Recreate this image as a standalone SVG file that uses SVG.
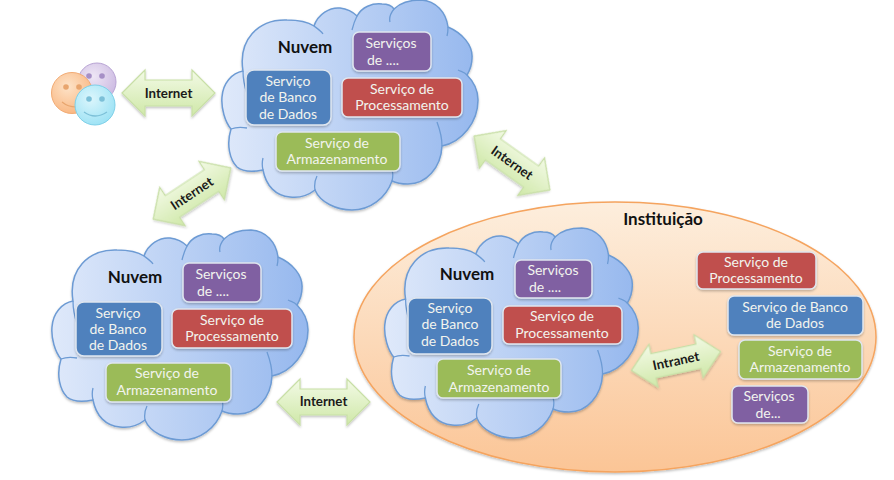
<svg xmlns="http://www.w3.org/2000/svg" width="894" height="480" viewBox="0 0 894 480">
<style>
text{font-family:"Lato","Liberation Sans",sans-serif;text-anchor:middle}
.s{font-size:14px;fill:#f2f4ee}
.t{font-size:17px;font-weight:700;fill:#111}
.a{font-size:13.300px;font-weight:700;fill:#1a1a1a}
.b{stroke:#dfe6ef;stroke-width:1.5;filter:url(#sh)}
.p{fill:#8060a2}.u{fill:#4f81bd}.r{fill:#c0504d}.g{fill:#9bbb59}
.ar{fill:url(#ag);stroke:#c8dfa6;stroke-width:1.2;filter:url(#sh)}
.c{fill:url(#cg);stroke:#6d9bd4;stroke-width:1.5;filter:url(#sh)}
.cl{fill:none;stroke:#6d9bd4;stroke-width:1.3}
</style>
<defs>
<linearGradient id="cg" x1="0" y1="0" x2="1" y2="0"><stop offset="0" stop-color="#dfe9fa"/><stop offset="1" stop-color="#96b8ee"/></linearGradient>
<linearGradient id="ag" x1="0" y1="0" x2="0" y2="1"><stop offset="0" stop-color="#f3fae6"/><stop offset="1" stop-color="#cfe8a8"/></linearGradient>
<linearGradient id="eg" x1="0" y1="0" x2="0" y2="1"><stop offset="0" stop-color="#fdeedd"/><stop offset="1" stop-color="#fbc596"/></linearGradient>
<radialGradient id="og" cx=".4" cy=".35" r=".75"><stop offset="0" stop-color="#fde3c8"/><stop offset="1" stop-color="#f9b27a"/></radialGradient>
<radialGradient id="vg" cx=".4" cy=".35" r=".75"><stop offset="0" stop-color="#eee6f5"/><stop offset="1" stop-color="#c9b6e0"/></radialGradient>
<radialGradient id="bg" cx=".4" cy=".35" r=".75"><stop offset="0" stop-color="#dcf6fc"/><stop offset="1" stop-color="#96e0f4"/></radialGradient>
<filter id="sh" x="-10%" y="-10%" width="120%" height="125%"><feDropShadow dx="0" dy="1.5" stdDeviation="1.2" flood-color="#000" flood-opacity=".25"/></filter>
<path id="arrow" d="M-46.5 0L-23.5 -23V-13H23.5V-23L46.5 0L23.5 23V13H-23.5V23Z"/>
<g id="cloud">
<path class="c" d="M243 71C238 40 258 19 287 20C298 20 308 22 314 26C318 14 330 7 340 8C348 9 353 12 357 16C362 7 372 3 382 4C388 4 392 6 394 9C400 3 410 0 421 0C436 1 446 12 448 27C462 33 473 45 472 58C472 64 470 70 467 75C475 83 478 92 478 100C478 122 462 142 442 146C441 168 426 184 408 184C402 184 396 183 392 181C386 198 370 210 352 210C336 210 320 202 315 190C306 197 298 198 290 197C276 196 266 186 263 170C253 172 243 172 237 167C230 160 226 145 231 129C225 122 221 108 222 97C223 83 232 73 243 71Z"/>
<path class="cl" d="M243 71C243 80 245 88 247 94M231 129C236 127 241 127 247 128M263 170C262 166 262 162 263 158M314 26C318 29 321 31 323 34M357 16C354 22 353 26 352 30M394 9C390 14 389 18 390 22M448 27C448 30 448 33 447 36M467 75C464 72 462 72 458 70M442 146C442 138 440 130 437 122M392 181C393 177 393 173 392 170M315 190C314 184 315 180 317 176"/>
</g>
</defs>
<rect width="894" height="480" fill="#fff"/>

<g id="connectors">
<use href="#arrow" class="ar" transform="translate(168.500 93)"/>
<use href="#arrow" class="ar" transform="translate(192 193.500) rotate(-33.500)"/>
<use href="#arrow" class="ar" transform="translate(512 163) rotate(35.400)"/>
<use href="#arrow" class="ar" transform="translate(323.500 402)"/>
</g>

<g id="usuarios">
<circle cx="97" cy="82" r="19" fill="url(#vg)" stroke="#b8a4d4"/>
<circle cx="89" cy="76" r="2.800" fill="#a68fc6"/><circle cx="102" cy="76" r="2.800" fill="#a68fc6"/>
<circle cx="72" cy="93" r="20.500" fill="url(#og)" stroke="#f2ab74"/>
<circle cx="66" cy="87" r="2.800" fill="#e8a56e"/><circle cx="79" cy="87" r="2.800" fill="#e8a56e"/>
<path d="M62 102Q68 107 76 107" fill="none" stroke="#e8a56e" stroke-width="1.200"/>
<circle cx="95" cy="105" r="20" fill="url(#bg)" stroke="#7fd0e8"/>
<circle cx="89" cy="99" r="2.800" fill="#7cc0d8"/><circle cx="102" cy="99" r="2.800" fill="#7cc0d8"/>
<path d="M84 112Q95 120 107 112" fill="none" stroke="#7cc0d8" stroke-width="1.300"/>
</g>

<g id="seta-internet-1"><text class="a" x="168.500" y="98">Internet</text></g>
<g id="seta-internet-2"><text class="a" transform="translate(192 193.500) rotate(-33.500)" y="4.500">Internet</text></g>
<g id="seta-internet-3"><text class="a" transform="translate(512 163) rotate(35.400)" y="4.500">Internet</text></g>
<g id="seta-internet-4"><text class="a" x="323.500" y="406">Internet</text></g>

<g id="nuvem-1">
<use href="#cloud"/>
<text class="t" x="305" y="53">Nuvem</text>
<rect class="b p" x="353" y="32" width="78" height="39" rx="6"/><text class="s" x="391" y="48">Serviços</text><text class="s" x="383" y="65">de ....</text>
<rect class="b u" x="246" y="70" width="85" height="55" rx="8"/><text class="s" x="288" y="86">Serviço</text><text class="s" x="288" y="102">de Banco</text><text class="s" x="288" y="119">de Dados</text>
<rect class="b r" x="342" y="78" width="120" height="39" rx="6"/><text class="s" x="402" y="94">Serviço de</text><text class="s" x="402" y="110">Processamento</text>
<rect class="b g" x="276" y="132" width="124" height="39" rx="6"/><text class="s" x="337" y="148">Serviço de</text><text class="s" x="337" y="164">Armazenamento</text>
</g>

<g id="nuvem-2">
<use href="#cloud" transform="translate(-170 230)"/>
<text class="t" x="135" y="283">Nuvem</text>
<rect class="b p" x="183" y="263" width="78" height="39" rx="6"/><text class="s" x="221" y="279">Serviços</text><text class="s" x="213" y="296">de ....</text>
<rect class="b u" x="76" y="302" width="86" height="54" rx="8"/><text class="s" x="118" y="318">Serviço</text><text class="s" x="118" y="334">de Banco</text><text class="s" x="118" y="350">de Dados</text>
<rect class="b r" x="172" y="309" width="120" height="39" rx="6"/><text class="s" x="232" y="325">Serviço de</text><text class="s" x="232" y="341">Processamento</text>
<rect class="b g" x="106" y="363" width="125" height="39" rx="6"/><text class="s" x="167" y="378">Serviço de</text><text class="s" x="167" y="395">Armazenamento</text>
</g>

<g id="instituicao">
<ellipse cx="615" cy="337" rx="261" ry="135" fill="url(#eg)" stroke="#f5a45f" stroke-width="1.500" filter="url(#sh)"/>
<text class="t" x="663" y="225">Instituição</text>
</g>

<g id="nuvem-3">
<use href="#cloud" transform="translate(165 228) scale(.99 1)"/>
<text class="t" x="467" y="280">Nuvem</text>
<rect class="b p" x="515" y="260" width="77" height="38" rx="6"/><text class="s" x="553" y="275">Serviços</text><text class="s" x="545" y="292">de ....</text>
<rect class="b u" x="408" y="298" width="84" height="56" rx="8"/><text class="s" x="450" y="313">Serviço</text><text class="s" x="450" y="329">de Banco</text><text class="s" x="450" y="346">de Dados</text>
<rect class="b r" x="503" y="306" width="119" height="38" rx="6"/><text class="s" x="562" y="321">Serviço de</text><text class="s" x="562" y="338">Processamento</text>
<rect class="b g" x="437" y="359" width="124" height="39" rx="6"/><text class="s" x="499" y="375">Serviço de</text><text class="s" x="499" y="392">Armazenamento</text>
</g>

<g id="seta-intranet">
<use href="#arrow" class="ar" transform="translate(676 361) rotate(-12) scale(.98 .95)"/>
<text class="a" transform="translate(676 361) rotate(-12)" y="4.500">Intranet</text>
</g>

<g id="servico-processamento"><rect class="b r" x="697" y="252" width="119" height="37" rx="6"/><text class="s" x="756" y="267">Serviço de</text><text class="s" x="756" y="283">Processamento</text></g>
<g id="servico-banco"><rect class="b u" x="728" y="296" width="135" height="39" rx="6"/><text class="s" x="795" y="312">Serviço de Banco</text><text class="s" x="795" y="328">de Dados</text></g>
<g id="servico-armazenamento"><rect class="b g" x="739" y="340" width="123" height="39" rx="6"/><text class="s" x="800" y="356">Serviço de</text><text class="s" x="800" y="372">Armazenamento</text></g>
<g id="servicos-de"><rect class="b p" x="732" y="386" width="76" height="37" rx="6"/><text class="s" x="769" y="401">Serviços</text><text class="s" x="768" y="418">de...</text></g>
</svg>
